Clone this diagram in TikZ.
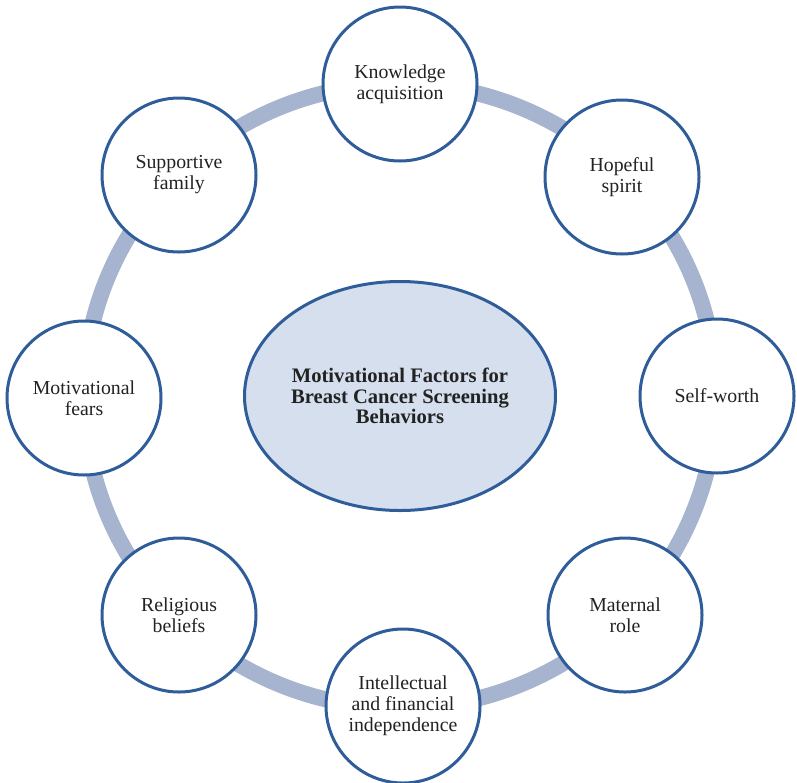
\documentclass[tikz,border=0pt]{standalone}
\usepackage{fontspec}
\setmainfont{Liberation Serif}
\usetikzlibrary{shapes.geometric}
\definecolor{ringcol}{HTML}{A6B4CF}
\definecolor{edgecol}{HTML}{2F5D9A}
\definecolor{centerfill}{HTML}{D5DFEE}
\definecolor{txtcol}{HTML}{222222}
\tikzset{
  factor/.style={circle, draw=edgecol, line width=3pt, fill=white,
    minimum size=154pt, inner sep=0pt, align=center, text=txtcol,
    font=\fontsize{19.8}{21}\selectfont},
  hub/.style={ellipse, draw=edgecol, line width=3pt, fill=centerfill,
    minimum width=311pt, minimum height=229pt, inner sep=0pt, align=center,
    text=txtcol, font=\bfseries\fontsize{20.6}{20.5}\selectfont},
  ringline/.style={draw=ringcol, line width=16pt}
}
\begin{document}
\begin{tikzpicture}[x=1pt,y=-1pt]
\useasboundingbox (0,0) rectangle (797,782);
\coordinate (ringc) at (400,396);
\draw[ringline] (ringc) ellipse [x radius=316pt, y radius=312pt];
\node[hub] (hubnode) at (400,396) {Motivational Factors for\\Breast Cancer Screening\\Behaviors};
\node[factor] (know) at (400,84) {Knowledge\\acquisition};
\node[factor] (hope) at (622,177) {Hopeful\\spirit};
\node[factor] (self) at (717,396) {Self-worth};
\node[factor] (mat) at (625,615) {Maternal\\role};
\node[factor] (intel) at (403,706) {Intellectual\\and financial\\independence};
\node[factor] (relig) at (179,615) {Religious\\beliefs};
\node[factor] (fears) at (84,398) {Motivational\\fears};
\node[factor] (fam) at (179,175) {Supportive\\family};
\end{tikzpicture}
\end{document}
